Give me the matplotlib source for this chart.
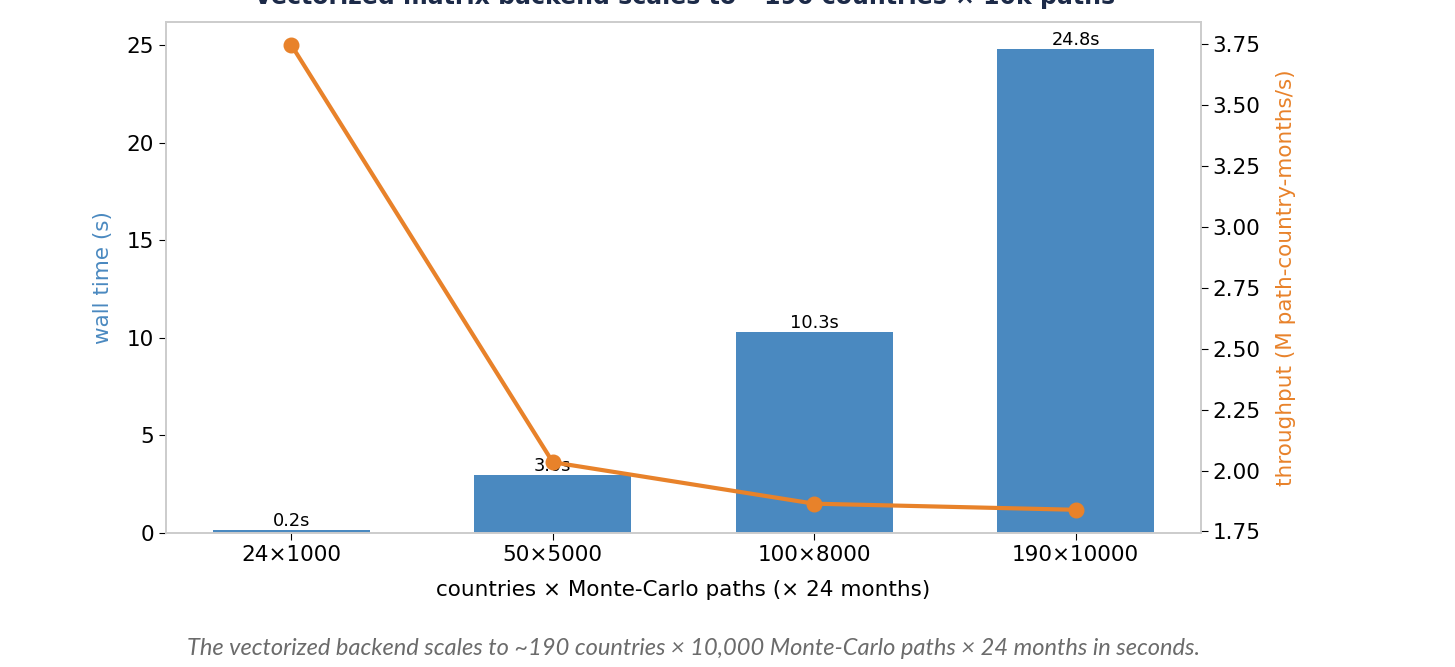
import numpy as np
import matplotlib.pyplot as plt

# benchmark grid: countries x Monte-Carlo paths (24 months each)
configs = ['24×1000', '50×5000', '100×8000', '190×10000']
wall_time = [0.154, 2.95, 10.3, 24.8]          # seconds
throughput = [3.745, 2.034, 1.864, 1.839]      # M path-country-months / s

bar_color = '#4a89c0'
line_color = '#e8822a'

fig = plt.figure(figsize=(14.55, 6.67), dpi=100)
ax = fig.add_axes([0.1141, 0.2009, 0.7113, 0.7661])

x = np.arange(len(configs))
bars = ax.bar(x, wall_time, width=0.6, color=bar_color)
ax.bar_label(bars, labels=[f'{v:.1f}s' for v in wall_time], fontsize=12.8, padding=0)
ax.set_ylim(0, 26.18)
ax.set_xticks(x, configs)
ax.set_ylabel('wall time (s)', color=bar_color, fontsize=15.5, labelpad=10)
ax.set_xlabel('countries × Monte-Carlo paths (× 24 months)', fontsize=15.5, labelpad=11)
ax.tick_params(labelsize=15.5, length=5)

ax2 = ax.twinx()
ax2.plot(x, throughput, color=line_color, lw=3, marker='o', ms=10.5)
ax2.set_ylabel('throughput (M path-country-months/s)', color=line_color, fontsize=15.5, labelpad=11)
ax2.tick_params(labelsize=15.5, length=5)
ax2.set_yticks(np.arange(1.75, 3.76, 0.25))

for a in (ax, ax2):
    for s in a.spines.values():
        s.set_color('#cccccc')
        s.set_linewidth(1.2)

fig.text(0.4708, 1.004, 'Vectorized matrix backend scales to ~190 countries × 10k paths',
         ha='center', va='center', fontsize=17, fontweight='bold', color='#1c2a48')

fig.text(0.4763, 0.028,
         'The vectorized backend scales to ~190 countries × 10,000 Monte-Carlo paths × 24 months in seconds.',
         ha='center', va='center', fontsize=17, style='italic', color='#6b6b6b', family='Lato')

fig.savefig('out.png', dpi=100)
